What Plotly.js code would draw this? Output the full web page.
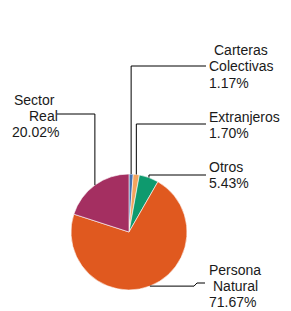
<!DOCTYPE html>
<html><head><meta charset="utf-8">
<script src="https://cdn.plot.ly/plotly-3.0.1.min.js"></script>
<style>html,body{margin:0;padding:0;background:#fff;}#chart{width:291px;height:311px;}</style>
</head><body><div id="chart"></div>
<script>
const categories = ["Carteras Colectivas", "Extranjeros", "Otros", "Persona Natural", "Sector Real"];
const values = [1.17, 1.70, 5.43, 71.67, 20.02];
const labelLines = [["Carteras", "Colectivas", "1.17%"], ["Extranjeros", "1.70%"], ["Otros", "5.43%"], ["Persona", "Natural", "71.67%"], ["Sector", "Real", "20.02%"]];
const colors = ["#4470B0", "#F3A45E", "#0E9A6E", "#E0591F", "#A42F61"];

const W = 291, H = 311;
const cx = 129, cy = 232, R = 58;
const px = x => x / W, py = y => 1 - y / H;

// label layout: [text lines with x (left) and y (center)] and leader waypoints (after pie edge point)
const labelLayout = [
  {lines: [[212, 50], [207, 66], [207, 83]], way: (e) => [[e[0], 66], [206, 66]]},
  {lines: [[207, 117], [207, 133]], way: (e) => [[e[0], 124], [206, 124]]},
  {lines: [[207, 167], [207, 183]], way: (e) => [[e[0], 175], [206, 175]]},
  {lines: [[207, 270], [211, 286], [207, 302]], way: (e) => [[194, e[1]], [197, 283], [205, 283]]},
  {lines: [[12, 100], [27, 116], [10, 132]], way: (e) => [[e[0], 114], [57, 114]]}
];

const total = values.reduce((a, b) => a + b, 0);
let cum = 0;
const shapes = [], annotations = [];
values.forEach((v, i) => {
  const mid = (cum + v / 2) / total * 2 * Math.PI;
  cum += v;
  const edge = [cx + R * Math.sin(mid), cy - R * Math.cos(mid)];
  const pts = [edge].concat(labelLayout[i].way(edge));
  let path = "M" + pts.map(p => px(p[0]) + "," + py(p[1])).join(" L");
  shapes.push({type: "path", xref: "paper", yref: "paper", path: path, line: {color: "#000", width: 1}});
  labelLines[i].forEach((t, j) => {
    const pos = labelLayout[i].lines[j];
    annotations.push({text: t, xref: "paper", yref: "paper", x: px(pos[0]), y: py(pos[1]),
      xanchor: "left", yanchor: "middle", showarrow: false,
      font: {family: "Liberation Sans, Arial, sans-serif", size: 14, color: "#1a1a1a"}});
  });
});

const data = [{
  type: "pie", labels: categories, values: values, sort: false, direction: "clockwise", rotation: 0,
  marker: {colors: colors, line: {color: "#ffffff", width: 0.6}},
  textinfo: "none", hoverinfo: "label+percent",
  domain: {x: [px(cx - R), px(cx + R)], y: [py(cy + R), py(cy - R)]}
}];
const layout = {width: W, height: H, margin: {l: 0, r: 0, t: 0, b: 0}, showlegend: false,
  paper_bgcolor: "#fff", plot_bgcolor: "#fff", shapes: shapes, annotations: annotations};
Plotly.newPlot("chart", data, layout, {staticPlot: true});
</script></body></html>
